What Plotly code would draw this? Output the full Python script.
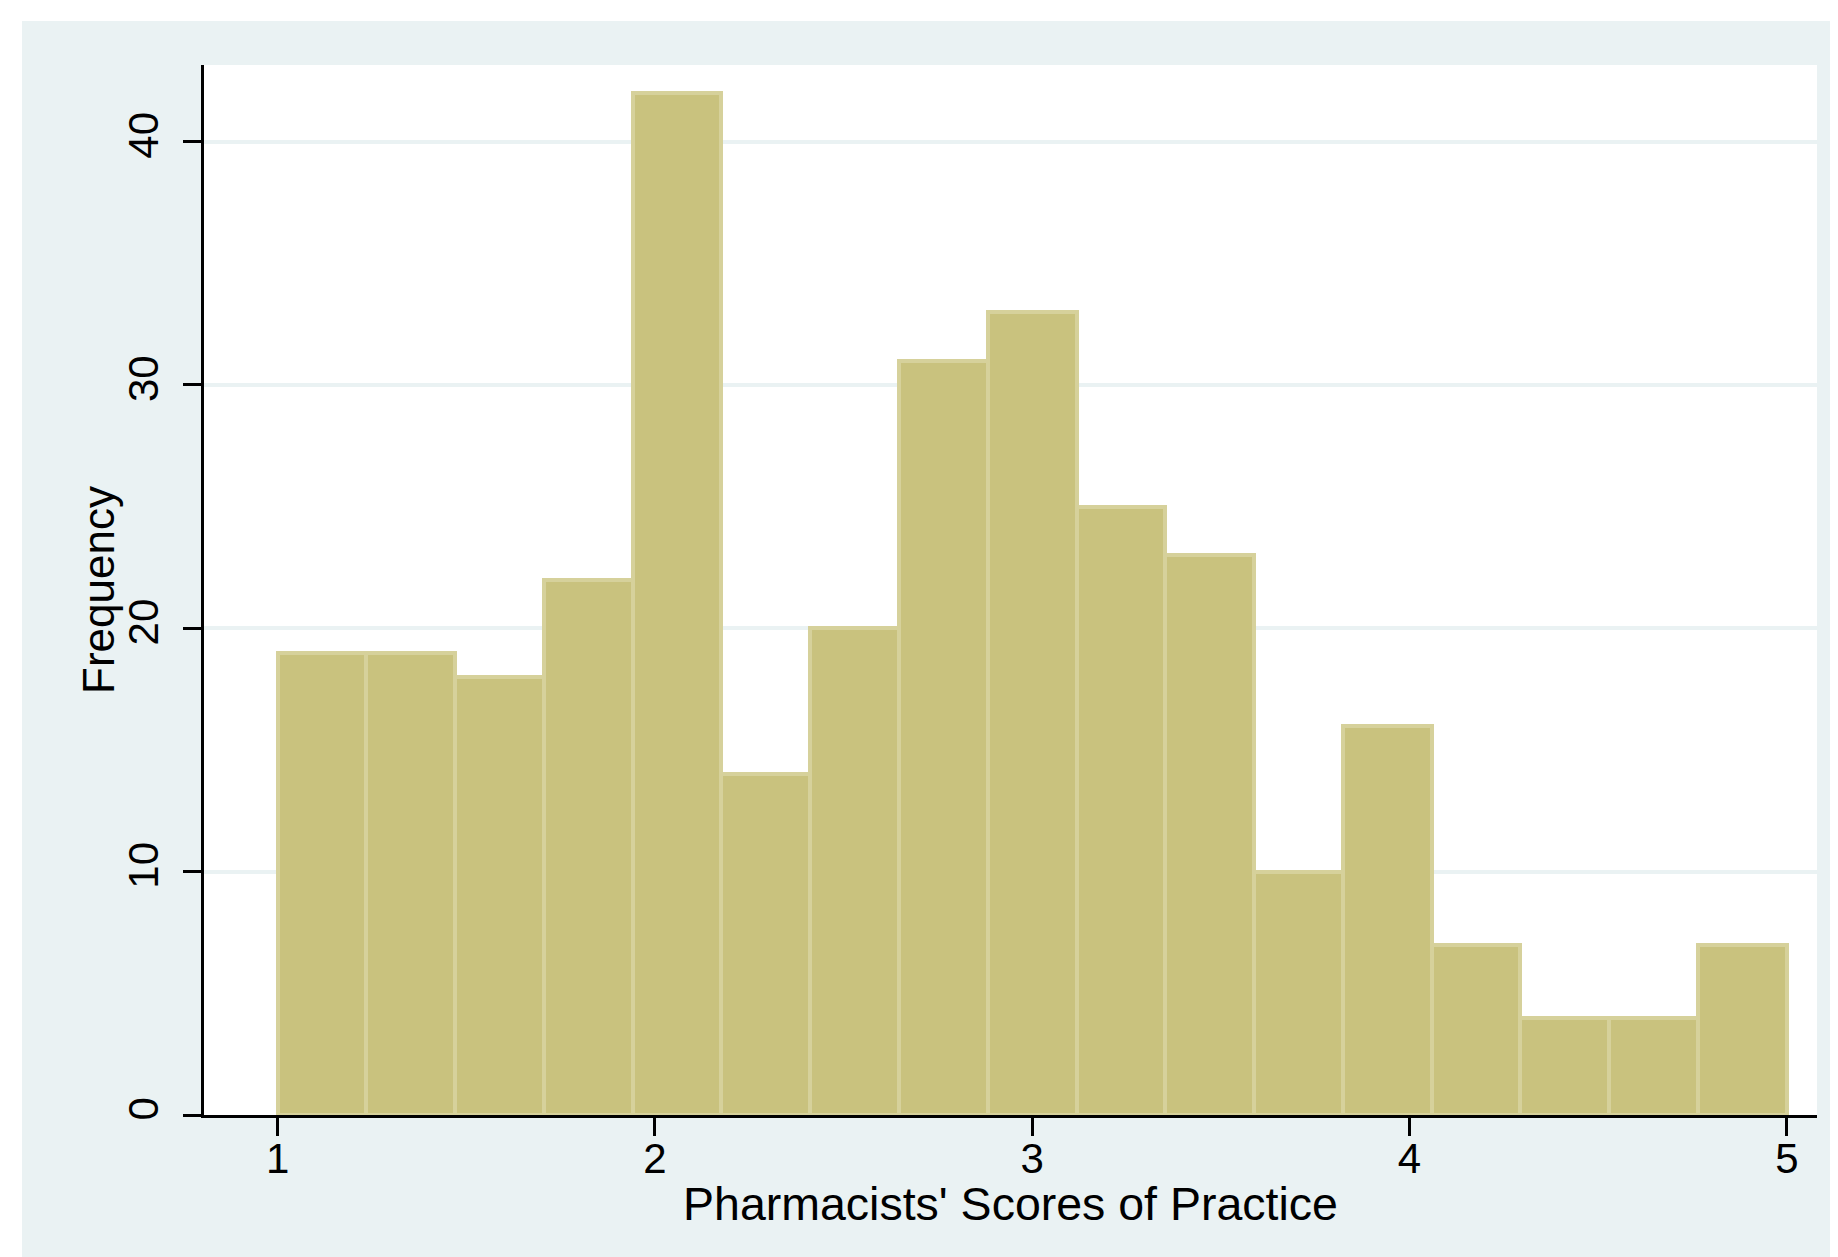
import plotly.graph_objects as go

# Histogram of pharmacists' practice scores (17 bins from 1 to 5)
bin_start = 1.0
bin_end = 5.0
counts = [19, 19, 18, 22, 42, 14, 20, 31, 33, 25, 23, 10, 16, 7, 4, 4, 7]
x_ticks = [1, 2, 3, 4, 5]
y_ticks = [0, 10, 20, 30, 40]
x_title = "Pharmacists' Scores of Practice"
y_title = "Frequency"

n_bins = len(counts)
bin_w = (bin_end - bin_start) / n_bins
centers = [bin_start + (i + 0.5) * bin_w for i in range(n_bins)]

FILL = "#C9C27E"
EDGE = "#D6D19B"
BG = "#EAF2F3"
FONT = "Liberation Sans, Arial, Helvetica, sans-serif"

fig = go.Figure(
    go.Bar(
        x=centers,
        y=counts,
        width=bin_w,
        marker=dict(color=FILL, line=dict(color=EDGE, width=4)),
        hoverinfo="x+y",
    )
)

# the page body adds an 8px margin, so the figure is sized to fit inside it
W, H = 1830, 1249
L, R, T, B = 196, 21, 57, 142
pw, ph = W - L - R, H - T - B
STRIP_L, STRIP_T = 14, 13

fig.update_layout(
    width=W,
    height=H,
    margin=dict(l=L, r=R, t=T, b=B, pad=0),
    paper_bgcolor=BG,
    plot_bgcolor="white",
    showlegend=False,
    bargap=0,
    font=dict(family=FONT, color="black", size=42),
    shapes=[
        dict(type="rect", xref="paper", yref="paper", layer="below",
             x0=-L / pw - 0.01, x1=(W - L) / pw + 0.01,
             y0=(ph + T - STRIP_T) / ph, y1=(ph + T) / ph + 0.01,
             fillcolor="white", line=dict(width=0)),
        dict(type="rect", xref="paper", yref="paper", layer="below",
             x0=-L / pw - 0.01, x1=(STRIP_L - L) / pw,
             y0=-B / ph - 0.01, y1=(ph + T) / ph + 0.01,
             fillcolor="white", line=dict(width=0)),
    ],
    annotations=[
        dict(text=y_title, xref="paper", yref="paper", x=0, y=0.5,
             xanchor="center", yanchor="middle", xshift=-106,
             textangle=-90, showarrow=False, font=dict(size=44)),
        dict(text=x_title, xref="paper", yref="paper", x=0.5, y=0,
             xanchor="center", yanchor="middle", yshift=-89,
             showarrow=False, font=dict(size=46.5)),
    ],
    xaxis=dict(
        range=[0.805, 5.080],
        tickvals=x_ticks,
        ticktext=[str(v) for v in x_ticks],
        ticks="outside",
        ticklen=18,
        tickwidth=2.5,
        tickcolor="black",
        showline=True,
        linecolor="black",
        linewidth=2.5,
        showgrid=False,
        zeroline=False,
        tickfont=dict(size=42),
        ticklabelstandoff=-13,
    ),
    yaxis=dict(
        range=[0, 43.15],
        tickvals=y_ticks,
        ticktext=[str(v) for v in y_ticks],
        tickangle=-90,
        ticks="outside",
        ticklen=18,
        tickwidth=2.5,
        tickcolor="black",
        showline=True,
        linecolor="black",
        linewidth=2.5,
        showgrid=True,
        gridcolor=BG,
        gridwidth=4,
        zeroline=False,
        tickfont=dict(size=42),
        ticklabelstandoff=8,
    ),
)

fig.write_html("out.html")
